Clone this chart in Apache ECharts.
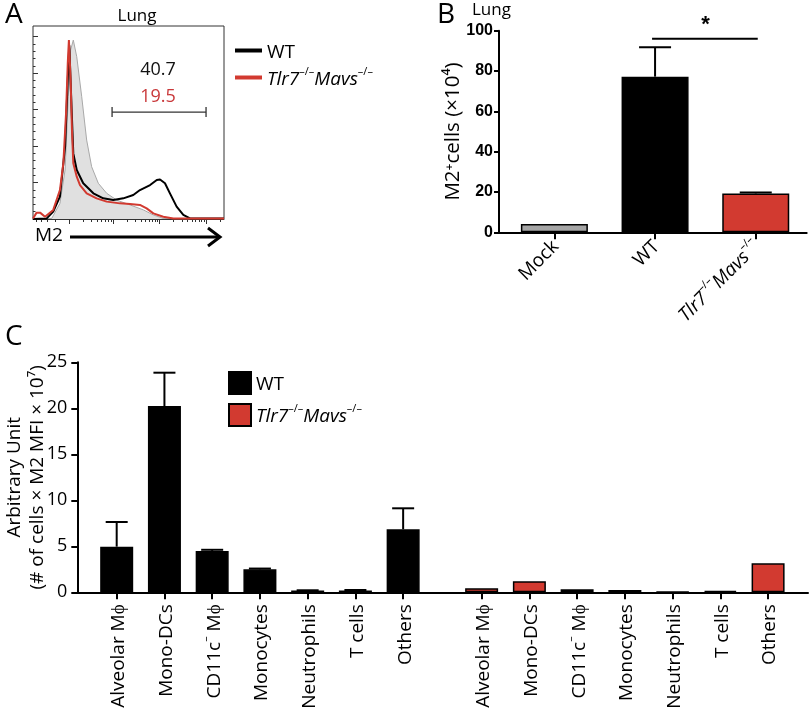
<!DOCTYPE html>
<html><head><meta charset="utf-8">
<script src="https://cdn.jsdelivr.net/npm/echarts@6/dist/echarts.min.js"></script>
<style>html,body{margin:0;padding:0;background:#fff}#c{width:810px;height:713px}</style>
</head><body><div id="c"></div>
<script>
// ---------- Panel A: histogram (M2 fluorescence position, % of max) ----------
const histMock = [[0,0],[9.8,0.3],[14.1,8.1],[16.8,25.4],[18.5,63.4],[19.7,87.6],[21.1,92.7],[22.9,84.1],[25.5,63.4],[28.1,40.9],[30.7,27.1],[34.2,18.5],[38.6,13.3],[43.8,9.8],[50.8,7.3],[57.8,4.7],[63,2.1],[68.2,0.3],[100,0]];
const histWT = [[0,0],[7.2,0.3],[10.6,3.8],[14.1,11.6],[16.8,37.5],[18.2,72],[19,90],[19.6,90],[20.3,54.8],[21.1,34],[22.9,25.4],[26.3,18.5],[31.6,13.3],[36.8,10.7],[42,9.8],[47.3,10.7],[52.5,12.4],[56,15],[61.3,17.6],[64.8,20.2],[66.5,20.5],[69.1,18.5],[71.7,13.3],[75.2,6.4],[78.7,2.1],[82.2,0.3],[100,0.3]];
const histKO = [[0,0.3],[0.5,0.3],[1.9,3.3],[3.7,3.3],[6.3,1.2],[10.6,4.7],[14.1,15],[15.9,28.9],[17.3,54.8],[18.2,80.7],[18.8,92.7],[19.7,72],[20.4,46.1],[21.1,28.9],[22.9,21.9],[24.6,17.6],[28.1,13.3],[33.3,10.7],[38.6,9],[45.5,8.1],[50.8,7.8],[56,7.3],[59.5,5.5],[63,2.9],[68.2,1.2],[73.5,0.3],[100,0.3]];
const gate = [41.4, 90.6, 55.4];          // gate start, end, height
const gateLabels = ['40.7', '19.5'];

// ---------- Panel B ----------
const bCategories = ['Mock', 'WT', 'Tlr7-/-Mavs-/-'];
const bValues = [4.1, 77.2, 19.3];
const bErrTop = [4.1, 91.8, 19.8];

// ---------- Panel C ----------
const cCategories = ['Alveolar Mϕ', 'Mono-DCs', 'CD11c- Mϕ', 'Monocytes', 'Neutrophils', 'T cells', 'Others'];
const cWT = [4.96, 20.25, 4.5, 2.5, 0.2, 0.2, 6.85];
const cWTErrTop = [7.64, 23.87, 4.62, 2.58, 0.22, 0.25, 9.13];
const cKO = [0.43, 1.2, 0.33, 0.25, 0.05, 0.15, 3.15];

// ---------- styles / layout ----------
const RED = '#d23a30';
const FONT = 'Open Sans';
const KO_OFFSET = 7.644;
const bColors = ['#a6a6a6', '#000000', RED];

function supRich(size) {
  return {
    n: {fontFamily: FONT, fontSize: size, color: '#000', lineHeight: size + 4, verticalAlign: 'bottom'},
    i: {fontFamily: FONT, fontSize: size, color: '#000', fontStyle: 'italic', lineHeight: size + 4, verticalAlign: 'bottom'},
    s: {fontFamily: FONT, fontSize: Math.round(size * 0.6), color: '#000', lineHeight: Math.round(size * 0.6) + 1, verticalAlign: 'top'}
  };
}
const koRich = '{i|Tlr7}{s|–/–}{i|Mavs}{s|–/–}';

// A x-axis tick positions (log-like decades)
const decades = [18.8, 42.0, 66.3, 90.6];
const decW = 24.3;
const aMinor = [];
decades.forEach(d => { for (let k = 2; k <= 9; k++) { const v = d + Math.log10(k) * decW; if (v < 100) aMinor.push(v); } });
for (let k = 2; k <= 9; k++) { const v = 18.8 - Math.log10(k) * decW; if (v > 0) aMinor.push(v); }
const aYInt = 18.9;
const aYMajor = [0,1,2,3,4,5].map(i => i * aYInt);
const aYMinor = [];
for (let i = 0; i < 25; i++) { if (i % 5) aYMinor.push(i * aYInt / 5); }

const cTickPos = cCategories.map((c, i) => i).concat(cCategories.map((c, i) => i + KO_OFFSET));

function errRender(capHalf) {
  return function (params, api) {
    const x = api.value(0), y0 = api.value(1), y1 = api.value(2);
    const p0 = api.coord([x, y0]), p1 = api.coord([x, y1]);
    if (y1 - y0 < 0.001) return null;
    return {type: 'group', children: [
      {type: 'line', shape: {x1: p0[0], y1: p0[1], x2: p1[0], y2: p1[1]}, style: {stroke: '#000', lineWidth: 2}},
      {type: 'line', shape: {x1: p1[0] - capHalf, y1: p1[1], x2: p1[0] + capHalf, y2: p1[1]}, style: {stroke: '#000', lineWidth: 2}}
    ]};
  };
}

const chart = echarts.init(document.getElementById('c'), null, {renderer: 'canvas'});
const option = {
  animation: false,
  backgroundColor: '#fff',
  textStyle: {fontFamily: FONT},
  title: [
    {text: 'A', left: 0, top: -4, textStyle: {fontFamily: FONT, fontSize: 28, fontWeight: 'normal', color: '#000'}},
    {text: 'Lung', left: 132, top: 3, textAlign: 'center', textStyle: {fontFamily: FONT, fontSize: 17, fontWeight: 'normal', color: '#000'}},
    {text: 'B', left: 432, top: -4, textStyle: {fontFamily: FONT, fontSize: 28, fontWeight: 'normal', color: '#000'}},
    {text: 'Lung', left: 467, top: -3, textStyle: {fontFamily: FONT, fontSize: 17, fontWeight: 'normal', color: '#000'}},
    {text: 'C', left: 0, top: 318, textStyle: {fontFamily: FONT, fontSize: 28, fontWeight: 'normal', color: '#000'}}
  ],
  legend: [
    {
      data: ['WT_A', 'KO_A'], orient: 'vertical', left: 230, top: 38, icon: 'rect',
      itemWidth: 27, itemHeight: 4, itemGap: 4,
      formatter: n => n === 'WT_A' ? '{n|WT}' : koRich,
      textStyle: {rich: supRich(19)}
    },
    {
      data: ['WT', 'KO'], orient: 'vertical', left: 223, top: 366, icon: 'rect',
      itemWidth: 22, itemHeight: 22, itemGap: 8,
      formatter: n => n === 'WT' ? '{n|WT}' : koRich,
      textStyle: {rich: supRich(19)}
    }
  ],
  grid: [
    {left: 33, top: 26, width: 191, height: 193, show: true, borderColor: '#333', borderWidth: 1, backgroundColor: 'transparent', outerBoundsMode: 'none', containLabel: false},
    {left: 499, top: 30.7, right: 3.3, height: 201.6, outerBoundsMode: 'none', containLabel: false},
    {left: 77.3, top: 362.3, right: 2, height: 230, outerBoundsMode: 'none', containLabel: false}
  ],
  xAxis: [
    {gridIndex: 0, type: 'value', min: 0, max: 100, position: 'bottom', splitLine: {show: false},
      axisLine: {show: true, onZero: false, lineStyle: {color: '#333', width: 1}},
      axisTick: {show: true, customValues: decades, length: 5, lineStyle: {color: '#333'}},
      axisLabel: {show: false}},
    {gridIndex: 0, type: 'value', min: 0, max: 100, position: 'bottom', splitLine: {show: false},
      axisLine: {show: false, onZero: false},
      axisTick: {show: true, customValues: aMinor, length: 3, lineStyle: {color: '#333'}},
      axisLabel: {show: false}},
    {gridIndex: 1, type: 'value', min: -0.55, max: 2.506, position: 'bottom', splitLine: {show: false},
      axisLine: {show: true, onZero: false, lineStyle: {color: '#000', width: 2}},
      axisTick: {show: true, customValues: [0, 1, 2], length: 7, lineStyle: {color: '#000', width: 2}},
      axisLabel: {show: true, customValues: [0, 1, 2], rotate: 45, margin: 10,
        formatter: v => { const i = Math.round(v); return i === 2 ? koRich : '{n|' + bCategories[i] + '}'; },
        rich: supRich(19)}},
    {gridIndex: 2, type: 'value', min: -0.825, max: 14.48, position: 'bottom', splitLine: {show: false},
      axisLine: {show: true, onZero: false, lineStyle: {color: '#000', width: 2}},
      axisTick: {show: true, customValues: cTickPos, length: 7, lineStyle: {color: '#000', width: 2}},
      axisLabel: {show: true, customValues: cTickPos, rotate: 90, margin: 12,
        formatter: v => {
          const i = v < 7 ? Math.round(v) : Math.round(v - KO_OFFSET);
          const name = cCategories[i];
          if (name.indexOf('CD11c-') === 0) return '{c|CD11c}{cs|–}{c| Mϕ}';
          return '{c|' + name + '}';
        },
        rich: {
          c: {fontFamily: FONT, fontSize: 19, color: '#000', lineHeight: 23, verticalAlign: 'bottom'},
          cs: {fontFamily: FONT, fontSize: 11, color: '#000', lineHeight: 12, verticalAlign: 'top'}
        }}}
  ],
  yAxis: [
    {gridIndex: 0, type: 'value', min: 0, max: 100, position: 'left', splitLine: {show: false},
      axisLine: {show: false, onZero: false},
      axisTick: {show: true, inside: true, customValues: aYMajor, length: 5, lineStyle: {color: '#333'}},
      axisLabel: {show: false}},
    {gridIndex: 0, type: 'value', min: 0, max: 100, position: 'left', splitLine: {show: false},
      axisLine: {show: false, onZero: false},
      axisTick: {show: true, inside: true, customValues: aYMinor, length: 2.5, lineStyle: {color: '#333'}},
      axisLabel: {show: false}},
    {gridIndex: 1, type: 'value', min: 0, max: 100, interval: 20, position: 'left', splitLine: {show: false},
      axisLine: {show: true, onZero: false, lineStyle: {color: '#000', width: 2}},
      axisTick: {show: true, length: 5, lineStyle: {color: '#000', width: 2}},
      axisLabel: {fontFamily: 'Liberation Sans', fontWeight: 'bold', fontSize: 16, color: '#000', margin: 6},
      name: 'M2⁺cells (×10⁴)', nameLocation: 'middle', nameRotate: 90, nameGap: 35, nameMoveOverlap: false,
      nameTextStyle: {fontFamily: FONT, fontSize: 20.5, color: '#000'}},
    {gridIndex: 2, type: 'value', min: 0, max: 25, interval: 5, position: 'left', splitLine: {show: false},
      axisLine: {show: true, onZero: false, lineStyle: {color: '#000', width: 2}},
      axisTick: {show: true, length: 6, lineStyle: {color: '#000', width: 2}},
      axisLabel: {fontFamily: FONT, fontSize: 18, color: '#000', margin: 10},
      name: 'Arbitrary Unit\n(# of cells × M2 MFI × 10⁷)', nameLocation: 'middle', nameRotate: 90, nameGap: 28, nameMoveOverlap: false,
      nameTextStyle: {fontFamily: FONT, fontSize: 19, color: '#000', lineHeight: 23}}
  ],
  graphic: [
    {type: 'text', left: 35, top: 226, style: {text: 'M2', fontFamily: FONT, fontSize: 19, fill: '#000'}},
    {type: 'line', shape: {x1: 70, y1: 237, x2: 219, y2: 237}, style: {stroke: '#000', lineWidth: 3}},
    {type: 'polyline', shape: {points: [[208, 228], [220, 237], [208, 246]]}, style: {stroke: '#000', lineWidth: 3, fill: null}}
  ],
  series: [
    {name: 'Mock_A', type: 'line', xAxisIndex: 0, yAxisIndex: 0, data: histMock, symbol: 'none', z: 1,
      lineStyle: {color: '#a8a8a8', width: 1}, areaStyle: {color: '#e0e0e0', opacity: 1}, itemStyle: {color: '#a8a8a8'}},
    {name: 'WT_A', type: 'line', xAxisIndex: 0, yAxisIndex: 0, data: histWT, symbol: 'none', z: 2,
      lineStyle: {color: '#000', width: 2}, itemStyle: {color: '#000'}},
    {name: 'KO_A', type: 'line', xAxisIndex: 0, yAxisIndex: 0, data: histKO, symbol: 'none', z: 3,
      lineStyle: {color: RED, width: 2}, itemStyle: {color: RED}},
    {name: 'gate', type: 'custom', xAxisIndex: 0, yAxisIndex: 0, data: [gate], clip: false, z: 4,
      encode: {x: [0, 1], y: 2},
      renderItem: (params, api) => {
        const p0 = api.coord([api.value(0), api.value(2)]);
        const p1 = api.coord([api.value(1), api.value(2)]);
        const mid = (p0[0] + p1[0]) / 2 - 1;
        const st = {stroke: '#333', lineWidth: 1.3};
        return {type: 'group', children: [
          {type: 'line', shape: {x1: p0[0], y1: p0[1], x2: p1[0], y2: p1[1]}, style: st},
          {type: 'line', shape: {x1: p0[0], y1: p0[1] - 5, x2: p0[0], y2: p0[1] + 5}, style: st},
          {type: 'line', shape: {x1: p1[0], y1: p1[1] - 5, x2: p1[0], y2: p1[1] + 5}, style: st},
          {type: 'text', style: {text: gateLabels[0], x: mid, y: p0[1] - 42, align: 'center', verticalAlign: 'middle', fontFamily: FONT, fontSize: 18, fill: '#111'}},
          {type: 'text', style: {text: gateLabels[1], x: mid, y: p0[1] - 15, align: 'center', verticalAlign: 'middle', fontFamily: FONT, fontSize: 18, fill: '#c9383a'}}
        ]};
      }},
    // Panel B
    {name: 'B', type: 'bar', xAxisIndex: 2, yAxisIndex: 2, barWidth: 67,
      data: bValues.map((v, i) => ({value: [i, v], itemStyle: {color: bColors[i], borderColor: '#000', borderWidth: 1.5}}))},
    {name: 'Berr', type: 'custom', xAxisIndex: 2, yAxisIndex: 2, z: 5,
      data: bValues.map((v, i) => [i, v, bErrTop[i]]), encode: {x: 0, y: [1, 2]}, renderItem: errRender(16)},
    {name: 'Bsig', type: 'custom', xAxisIndex: 2, yAxisIndex: 2, z: 5, clip: false,
      data: [[1, 2, 96]], encode: {x: [0, 1], y: 2},
      renderItem: (params, api) => {
        const p0 = api.coord([api.value(0), api.value(2)]);
        const p1 = api.coord([api.value(1), api.value(2)]);
        return {type: 'group', children: [
          {type: 'line', shape: {x1: p0[0] - 3, y1: p0[1], x2: p1[0] + 2, y2: p1[1]}, style: {stroke: '#000', lineWidth: 2}},
          {type: 'text', style: {text: '*', x: (p0[0] + p1[0]) / 2, y: p0[1] - 3, align: 'center', verticalAlign: 'bottom', fontFamily: 'Liberation Sans', fontWeight: 'bold', fontSize: 22, fill: '#000'}}
        ]};
      }},
    // Panel C
    {name: 'WT', type: 'bar', xAxisIndex: 3, yAxisIndex: 3, barWidth: 33, barGap: '-100%',
      itemStyle: {color: '#000', borderColor: '#000', borderWidth: 1.5},
      data: cWT.map((v, i) => [i, v])},
    {name: 'KO', type: 'bar', xAxisIndex: 3, yAxisIndex: 3, barWidth: 33, barGap: '-100%',
      itemStyle: {color: RED, borderColor: '#000', borderWidth: 1.5},
      data: cKO.map((v, i) => [i + KO_OFFSET, v])},
    {name: 'Cerr', type: 'custom', xAxisIndex: 3, yAxisIndex: 3, z: 5,
      data: cWT.map((v, i) => [i, v, cWTErrTop[i]]), encode: {x: 0, y: [1, 2]}, renderItem: errRender(11)}
  ]
};
chart.setOption(option);
</script></body></html>
